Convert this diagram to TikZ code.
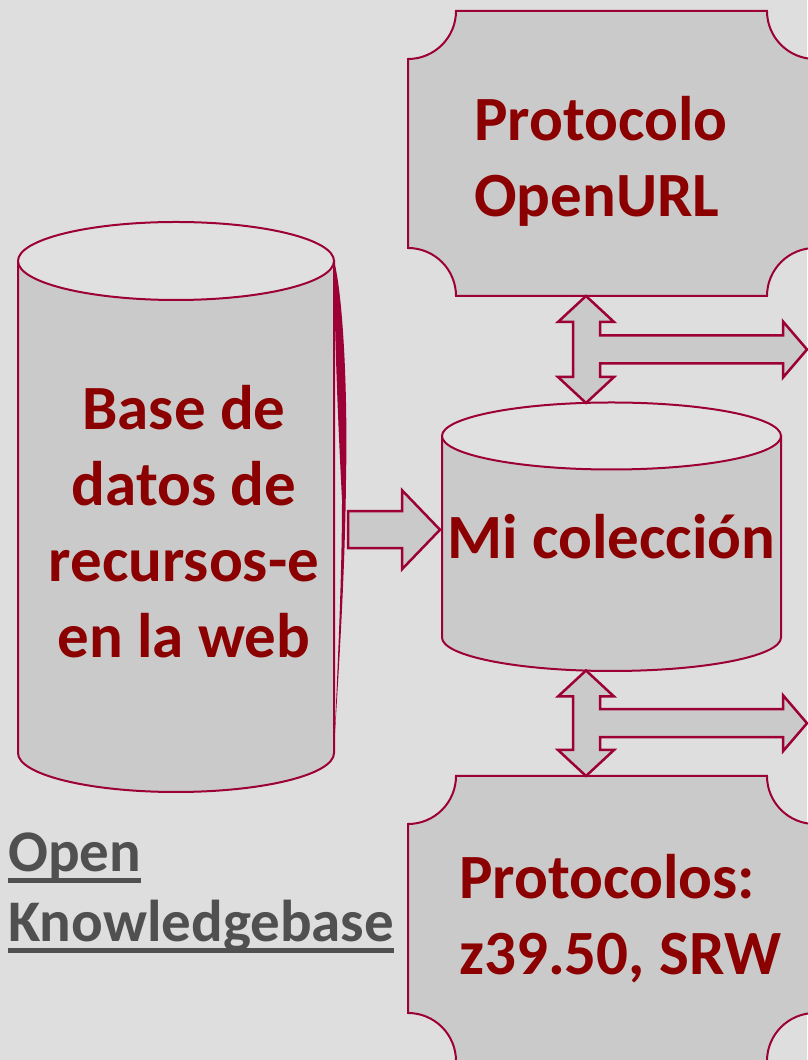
\documentclass[tikz,border=0pt]{standalone}
\usepackage{fontspec}
\setmainfont{Carlito}
\usepackage{tikz}
\usetikzlibrary{calc,backgrounds}
\definecolor{bggray}{HTML}{DEDEDE}
\definecolor{boxgray}{HTML}{CACACA}
\definecolor{capgray}{HTML}{E0E0E0}
\definecolor{edgered}{HTML}{9C0036}
\definecolor{textred}{HTML}{8B0000}
\definecolor{kbgray}{HTML}{505050}
\newcommand*{\plaque}[1]{% node name
		\draw[edge, fill=boxgray] ([yshift=-48pt]#1.north west) arc[start angle=-90, end angle=0, radius=48pt]
		-- ([xshift=-48pt]#1.north east) arc[start angle=180, end angle=270, radius=48pt]
		-- ([yshift=48pt]#1.south east) arc[start angle=90, end angle=180, radius=48pt]
		-- ([xshift=48pt]#1.south west) arc[start angle=0, end angle=90, radius=48pt] -- cycle;
}
\newcommand*{\dbshape}[3]{% node name, x radius, y radius
		\draw[edge, fill=boxgray] (#1.north west) -- (#1.south west)
		arc[start angle=180, end angle=360, x radius=#2, y radius=#3] -- (#1.north east) -- cycle;
		\draw[edge, fill=capgray] (#1.north) ellipse[x radius=#2, y radius=#3];
}
\newcommand*{\busarrow}[2]{% top tip, bottom tip
		\draw[blockarrow] let \p1=(#1), \p2=(#2), \n1={(\y1-\y2)/2} in
		(\p1) -- ++(28,-26) -- ++(-14,0) -- ({\x1+14},{\y1-\n1+14}) -- ({\x1+197},{\y1-\n1+14})
		-- ({\x1+197},{\y1-\n1+28}) -- ({\x1+221},{\y1-\n1}) -- ({\x1+197},{\y1-\n1-28})
		-- ({\x1+197},{\y1-\n1-14}) -- ({\x1+14},{\y1-\n1-14}) -- ({\x1+14},{\y2+26})
		-- ({\x1+28},{\y2+26}) -- ({\x1},{\y2}) -- ({\x1-28},{\y2+26}) -- ({\x1-13},{\y2+26})
		-- ({\x1-13},{\y1-26}) -- ({\x1-28},{\y1-26}) -- cycle;
}
\newcommand*{\rarrow}[2]{% tail, tip
		\draw[blockarrow] let \p1=(#1), \p2=(#2) in
		({\x1},{\y2+18.5}) -- ({\x2-38},{\y2+18.5}) -- ({\x2-38},{\y2+39.5}) -- (\p2)
		-- ({\x2-38},{\y2-39.5}) -- ({\x2-38},{\y2-18.5}) -- ({\x1},{\y2-18.5}) -- cycle;
}
\newcommand*{\underrule}[1]{% node name
		\draw[kbrule] ([yshift=-8.5pt]#1.base west) -- ([yshift=-8.5pt]#1.base east);
}
\tikzset{edge/.style={draw=edgered, line width=2pt}}
\tikzset{dbbody/.style={rectangle, inner sep=0pt, outer sep=0pt}}
\tikzset{plaquebox/.style={rectangle, inner sep=0pt, outer sep=0pt, minimum width=407pt, minimum height=285pt}}
\tikzset{bigtext/.style={text=textred, font=\fontsize{63}{76}\selectfont\bfseries, inner sep=0pt}}
\tikzset{kbtext/.style={text=kbgray, font=\fontsize{59}{70}\selectfont\bfseries, inner sep=0pt, anchor=base west}}
\tikzset{kbrule/.style={draw=kbgray, line width=4.5pt}}
\tikzset{blockarrow/.style={edge, line width=2.5pt, fill=boxgray, line join=miter}}

\begin{document}
\begin{tikzpicture}[x=1pt,y=1pt]
		\useasboundingbox (0,0) rectangle (807,1060);
		% plaques
		\node[plaquebox] (openurl) at (611.5,906.5) {};
		\node[plaquebox] (zproto) at (611.5,141.5) {};
		\node[bigtext, align=left, anchor=west] (openurltext) at (474,899) {Protocolo\\OpenURL};
		\node[bigtext, align=left, anchor=west] (zprototext) at (459,141) {Protocolos:\\z39.50, SRW};
		% databases
		\node[dbbody, minimum width=316pt, minimum height=492pt] (kb) at (176,553) {};
		\node[bigtext, align=center] (kbname) at ([xshift=8pt,yshift=-15pt]kb.center) {Base de\\datos de\\recursos-e\\en la web};
		\node[dbbody, bigtext, minimum width=339pt, minimum height=201.5pt] (coll) at (611.5,523.25) {Mi colección};
		\node[kbtext] (okbopen) at (8,188) {Open};
		\node[kbtext] (okbname) at (8,118) {Knowledgebase};
		\underrule{okbopen}
		\underrule{okbname}
		\begin{scope}[on background layer]
			\fill[bggray] (0,0) rectangle (807,1060);
			\plaque{openurl}
			\plaque{zproto}
			\dbshape{kb}{158}{39}
			\dbshape{coll}{169.5}{33.5}
		\end{scope}
		\fill[edgered] (334,799) .. controls (342,770) and (348,680) .. (346,580)
			.. controls (345,480) and (338,380) .. (334,310)
			.. controls (337,380) and (342,480) .. (342,560)
			.. controls (339,620) and (335,700) .. (334,799) -- cycle;
		% arrows
		\rarrow{$(kb.east)+(14,0)$}{$(coll.west)+(-2,7)$}
		\busarrow{$(openurl.south)+(-25.5,0)$}{$(coll.north)+(-25.5,33)$}
		\busarrow{$(coll.south)+(-25.5,-33)$}{$(zproto.north)+(-25.5,0)$}
\end{tikzpicture}
\end{document}
